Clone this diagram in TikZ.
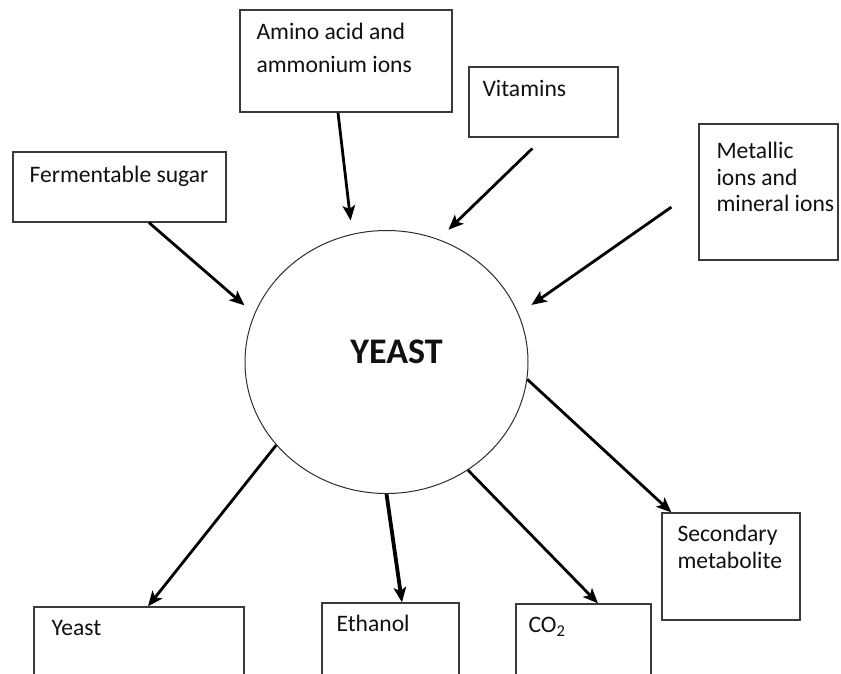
\documentclass[tikz,border=0pt]{standalone}
\usepackage{fontspec}
\setmainfont{Carlito}
\usepackage{xcolor}
\usepackage{tikz}
\usetikzlibrary{positioning, shapes.geometric, arrows.meta}
\definecolor{ysLine}{HTML}{3A3A3A}
\definecolor{ysRing}{HTML}{2E2E2E}
\definecolor{ysInk}{HTML}{111111}
\tikzset{
  panel/.style={
    rectangle, draw=ysLine, line width=1.3pt,
    fill=white, inner sep=0pt
  },
  cell/.style={
    rectangle, inner sep=0pt, align=left,
    text=ysInk, font=\fontsize{23.6}{26.5}\selectfont
  },
  cellwide/.style={
    cell, font=\fontsize{23.6}{33}\selectfont
  },
  cellbody/.style={
    ellipse, draw=ysRing, line width=1pt,
    fill=white, inner sep=0pt,
    minimum width=283pt, minimum height=263pt
  },
  feed/.style={
    -{Stealth[length=15pt, width=12.5pt, inset=3.5pt]},
    black, line width=2.8pt
  },
  heavyfeed/.style={
    feed, line width=3.8pt
  }
}

\begin{document}
\begin{tikzpicture}[x=1pt, y=-1pt]
      \useasboundingbox (0,0) rectangle (841,673);
      \clip (0,0) rectangle (841,673);
      \node[panel, minimum width=213pt, minimum height=70pt] (sugar) at (119.5, 187) {};
      \node[panel, minimum width=212pt, minimum height=102pt] (amino) at (346, 61) {};
      \node[panel, minimum width=149pt, minimum height=70pt] (vit) at (543.5, 102) {};
      \node[panel, minimum width=139pt, minimum height=136pt] (metal) at (768.5, 192) {};
      \node[panel, minimum width=138pt, minimum height=107pt] (second) at (731, 566.5) {};
      \node[panel, minimum width=210pt, minimum height=93pt] (yout) at (139, 653.5) {};
      \node[panel, minimum width=137pt, minimum height=97pt] (ethanol) at (390.5, 651.5) {};
      \node[panel, minimum width=135pt, minimum height=96pt] (carbon) at (583.5, 652) {};
      \node[cell, below right=15pt and 17pt of sugar.north west] (sugartext) {Fermentable sugar};
      \node[cellwide, below right=14pt and 17pt of amino.north west] (aminotext) {Amino acid and\\ammonium ions};
      \node[cell, below right=14pt and 14pt of vit.north west] (vittext) {Vitamins};
      \node[cell, below right=19pt and 18pt of metal.north west] (metaltext) {Metallic\\ions and\\mineral ions};
      \node[cell, below right=13pt and 16pt of second.north west] (secondtext) {Secondary\\metabolite};
      \node[cell, below right=14pt and 18pt of yout.north west] (youttext) {Yeast};
      \node[cell, below right=13pt and 15pt of ethanol.north west] (ethanoltext) {Ethanol};
      \node[cell, below right=14pt and 13pt of carbon.north west] (carbontext) {CO\textsubscript{2}};
      \node[cellbody] (yeast) at (386.5, 362) {};
      \node[font=\fontsize{36}{40}\selectfont\bfseries, text=ysInk, inner sep=0pt] (yeasttext) at (396.5, 351.5) {YEAST};
      \draw[feed, shorten >=13pt] ([xshift=29.5pt]sugar.south) -- (yeast.160);
      \draw[feed, shorten >=13.5pt] ([xshift=-8pt]amino.south) -- (yeast.105);
      \draw[feed, shorten <=15.6pt, shorten >=13.7pt] (vit.south) -- (yeast.67);
      \draw[feed, shorten <=32.9pt, shorten >=15.6pt] ([yshift=3.8pt]metal.west) -- (yeast.20);
      \draw[feed] (yeast.217) -- ([xshift=9pt]yout.north);
      \draw[heavyfeed] (yeast.270) -- ([xshift=11.5pt]ethanol.north);
      \draw[feed] (yeast.307.6) -- ([xshift=14.5pt]carbon.north);
      \draw[feed] (yeast.353) -- ([xshift=10pt]second.north west);
    \end{tikzpicture}
\end{document}
